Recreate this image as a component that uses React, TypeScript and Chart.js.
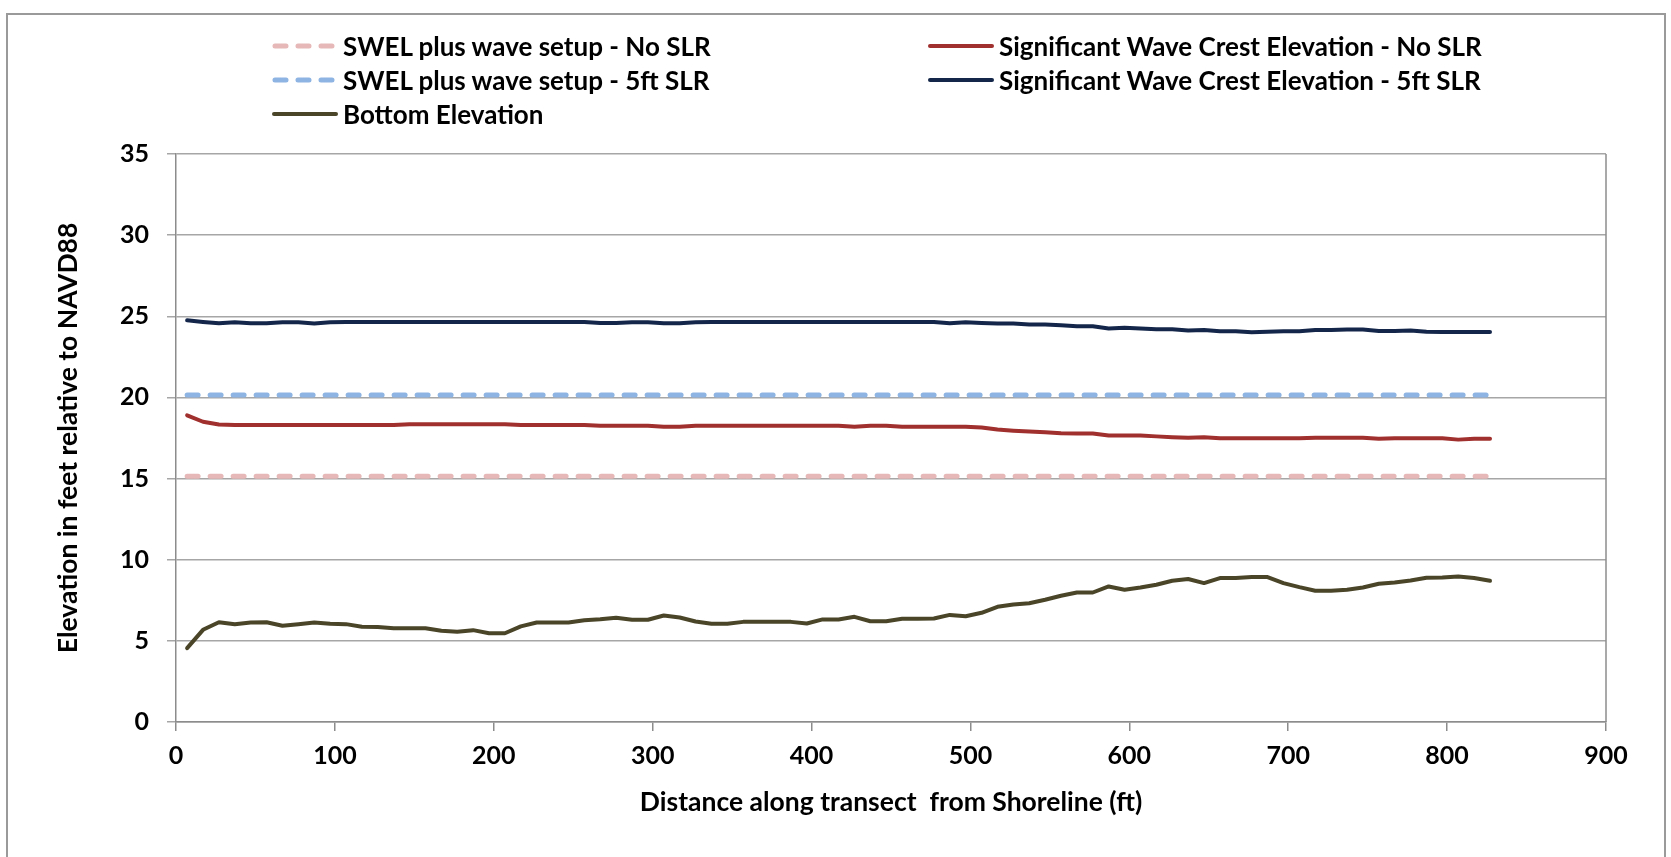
import React, { useEffect, useRef } from "react";
import { Chart, registerables } from "chart.js";

Chart.register(...registerables);

const distances = [
  7, 17, 27, 37, 47, 57, 67, 77, 87, 97,
  107, 117, 127, 137, 147, 157, 167, 177, 187, 197,
  207, 217, 227, 237, 247, 257, 267, 277, 287, 297,
  307, 317, 327, 337, 347, 357, 367, 377, 387, 397,
  407, 417, 427, 437, 447, 457, 467, 477, 487, 497,
  507, 517, 527, 537, 547, 557, 567, 577, 587, 597,
  607, 617, 627, 637, 647, 657, 667, 677, 687, 697,
  707, 717, 727, 737, 747, 757, 767, 777, 787, 797,
  807, 817, 827,
];

const bottomElevation = [
  4.55, 5.68, 6.15, 6.03, 6.13, 6.15, 5.93, 6.03, 6.13, 6.05,
  6.03, 5.87, 5.85, 5.78, 5.78, 5.78, 5.62, 5.56, 5.66, 5.47,
  5.47, 5.89, 6.13, 6.13, 6.13, 6.27, 6.33, 6.42, 6.3, 6.3,
  6.56, 6.44, 6.19, 6.05, 6.05, 6.17, 6.17, 6.17, 6.17, 6.07,
  6.32, 6.32, 6.48, 6.21, 6.21, 6.36, 6.36, 6.38, 6.6, 6.52,
  6.73, 7.1, 7.24, 7.32, 7.53, 7.78, 7.98, 7.98, 8.35, 8.15,
  8.29, 8.46, 8.7, 8.81, 8.56, 8.87, 8.87, 8.93, 8.93, 8.56,
  8.31, 8.09, 8.09, 8.15, 8.29, 8.52, 8.6, 8.72, 8.89, 8.91,
  8.97, 8.87, 8.7,
];

const crestNoSLR = [
  18.9, 18.5, 18.33, 18.3, 18.3, 18.3, 18.3, 18.3, 18.3, 18.3,
  18.3, 18.3, 18.3, 18.3, 18.35, 18.35, 18.35, 18.35, 18.35, 18.35,
  18.35, 18.3, 18.3, 18.3, 18.3, 18.3, 18.25, 18.25, 18.25, 18.25,
  18.2, 18.2, 18.25, 18.25, 18.25, 18.25, 18.25, 18.25, 18.25, 18.25,
  18.25, 18.25, 18.2, 18.25, 18.25, 18.2, 18.2, 18.2, 18.2, 18.2,
  18.15, 18.02, 17.95, 17.9, 17.85, 17.8, 17.78, 17.78, 17.65, 17.65,
  17.65, 17.6, 17.55, 17.52, 17.55, 17.48, 17.48, 17.48, 17.48, 17.48,
  17.48, 17.52, 17.52, 17.52, 17.52, 17.45, 17.48, 17.48, 17.48, 17.48,
  17.4, 17.45, 17.45,
];

const crest5ftSLR = [
  24.75, 24.65, 24.57, 24.63, 24.57, 24.57, 24.63, 24.63, 24.55, 24.63,
  24.65, 24.65, 24.65, 24.65, 24.65, 24.65, 24.65, 24.65, 24.65, 24.65,
  24.65, 24.65, 24.65, 24.65, 24.65, 24.65, 24.58, 24.58, 24.63, 24.63,
  24.57, 24.57, 24.63, 24.65, 24.65, 24.65, 24.65, 24.65, 24.65, 24.65,
  24.65, 24.65, 24.65, 24.65, 24.65, 24.65, 24.65, 24.65, 24.57, 24.63,
  24.58, 24.55, 24.55, 24.5, 24.5, 24.45, 24.38, 24.38, 24.25, 24.3,
  24.25, 24.2, 24.2, 24.12, 24.15, 24.08, 24.08, 24.02, 24.05, 24.08,
  24.08, 24.15, 24.15, 24.18, 24.18, 24.1, 24.1, 24.12, 24.05, 24.03,
  24.03, 24.03, 24.03,
];

const swelX = [7, 827];
const swelNoSLR = [15.15, 15.15];
const swel5ftSLR = [20.15, 20.15];

const xTicks = [0, 100, 200, 300, 400, 500, 600, 700, 800, 900];
const yTicks = [0, 5, 10, 15, 20, 25, 30, 35];

const labels = {
  swelNo: "SWEL plus wave setup - No SLR",
  swel5: "SWEL plus wave setup - 5ft SLR",
  bottom: "Bottom Elevation",
  crestNo: "Significant Wave Crest Elevation - No SLR",
  crest5: "Significant Wave Crest Elevation - 5ft SLR",
};

const colors = {
  swelNo: "#E6B8B7",
  swel5: "#8DB4E2",
  bottom: "#4A4529",
  crestNo: "#A0302D",
  crest5: "#14274A",
  grid: "#A6A6A6",
  axis: "#8C8C8C",
};

const FONT = "Lato, 'Liberation Sans', sans-serif";

const toPoints = (xs: number[], ys: number[]) => xs.map((x, i) => ({ x, y: ys[i] }));

const frameLine = {
  id: "frameLine",
  beforeDatasetsDraw(chart: any) {
    const { ctx, chartArea } = chart;
    ctx.save();
    ctx.strokeStyle = colors.axis;
    ctx.lineWidth = 1.5;
    ctx.beginPath();
    ctx.moveTo(chartArea.right, chartArea.top);
    ctx.lineTo(chartArea.right, chartArea.bottom);
    ctx.stroke();
    ctx.restore();
  },
};

type LegendItem = { key: keyof typeof labels; dashed: boolean; left: number; top: number };

const legendItems: LegendItem[] = [
  { key: "swelNo", dashed: true, left: 272, top: 46 },
  { key: "swel5", dashed: true, left: 272, top: 80 },
  { key: "bottom", dashed: false, left: 272, top: 114 },
  { key: "crestNo", dashed: false, left: 928, top: 46 },
  { key: "crest5", dashed: false, left: 928, top: 80 },
];

function LegendEntry({ item }: { item: LegendItem }) {
  const color = colors[item.key];
  return (
    <div
      style={{
        position: "absolute",
        left: item.left,
        top: item.top - 17,
        height: 34,
        display: "flex",
        alignItems: "center",
        whiteSpace: "nowrap",
      }}
    >
      <svg width={66} height={10} style={{ display: "block" }}>
        {item.dashed ? (
          <line x1={3} y1={5} x2={63} y2={5} stroke={color} strokeWidth={5} strokeLinecap="round" strokeDasharray="11 12" />
        ) : (
          <line x1={2} y1={5} x2={64} y2={5} stroke={color} strokeWidth={4} strokeLinecap="round" />
        )}
      </svg>
      <span
        style={{
          marginLeft: 5,
          fontFamily: FONT,
          fontWeight: 700,
          fontSize: 26,
          color: "#000",
          lineHeight: "34px",
        }}
      >
        {labels[item.key]}
      </span>
    </div>
  );
}

export default function App() {
  const canvasRef = useRef<HTMLCanvasElement | null>(null);

  useEffect(() => {
    if (!canvasRef.current) return;
    const chart = new Chart(canvasRef.current, {
      type: "line",
      data: {
        datasets: [
          {
            label: labels.swelNo,
            data: toPoints(swelX, swelNoSLR),
            borderColor: colors.swelNo,
            borderWidth: 5,
            borderDash: [11, 12],
            borderCapStyle: "round",
            pointRadius: 0,
          },
          {
            label: labels.crestNo,
            data: toPoints(distances, crestNoSLR),
            borderColor: colors.crestNo,
            borderWidth: 4,
            borderCapStyle: "round",
            borderJoinStyle: "round",
            pointRadius: 0,
          },
          {
            label: labels.swel5,
            data: toPoints(swelX, swel5ftSLR),
            borderColor: colors.swel5,
            borderWidth: 5,
            borderDash: [11, 12],
            borderCapStyle: "round",
            pointRadius: 0,
          },
          {
            label: labels.crest5,
            data: toPoints(distances, crest5ftSLR),
            borderColor: colors.crest5,
            borderWidth: 4,
            borderCapStyle: "round",
            borderJoinStyle: "round",
            pointRadius: 0,
          },
          {
            label: labels.bottom,
            data: toPoints(distances, bottomElevation),
            borderColor: colors.bottom,
            borderWidth: 4,
            borderCapStyle: "round",
            borderJoinStyle: "round",
            pointRadius: 0,
          },
        ],
      },
      options: {
        animation: false,
        responsive: false,
        maintainAspectRatio: false,
        layout: { padding: { top: 154, right: 65, bottom: 0, left: 0 } },
        plugins: {
          legend: { display: false },
          tooltip: { enabled: false },
        },
        scales: {
          x: {
            type: "linear",
            min: 0,
            max: 900,
            afterFit: (s: any) => {
              s.height = 135;
            },
            afterBuildTicks: (s: any) => {
              s.ticks = xTicks.map((v) => ({ value: v }));
            },
            ticks: {
              autoSkip: false,
              maxRotation: 0,
              padding: 10,
              color: "#000",
              font: { family: FONT, size: 25, weight: "bold" },
            },
            grid: {
              drawOnChartArea: false,
              drawTicks: true,
              tickLength: 9,
              color: colors.axis,
              lineWidth: 1.5,
            },
            border: { display: true, color: colors.axis, width: 1.5 },
            title: {
              display: true,
              text: "Distance along transect  from Shoreline (ft)",
              color: "#000",
              font: { family: FONT, size: 26.5, weight: "bold" },
              padding: { top: 0, bottom: 39 },
            },
          },
          y: {
            type: "linear",
            min: 0,
            max: 35,
            afterFit: (s: any) => {
              s.width = 176;
            },
            afterBuildTicks: (s: any) => {
              s.ticks = yTicks.map((v) => ({ value: v }));
            },
            ticks: {
              autoSkip: false,
              padding: 18,
              color: "#000",
              font: { family: FONT, size: 25, weight: "bold" },
            },
            grid: {
              drawOnChartArea: true,
              drawTicks: true,
              tickLength: 9,
              color: colors.grid,
              lineWidth: 1.5,
            },
            border: { display: true, color: colors.axis, width: 1.5 },
            title: {
              display: true,
              text: "Elevation in feet relative to NAVD88",
              color: "#000",
              font: { family: FONT, size: 26.5, weight: "bold" },
              padding: { top: 53, bottom: 0 },
            },
          },
        },
      },
      plugins: [frameLine],
    });
    return () => chart.destroy();
  }, []);

  return (
    <div
      style={{
        position: "fixed",
        left: 0,
        top: 0,
        width: 1671,
        height: 857,
        background: "#fff",
        overflow: "hidden",
      }}
    >
      <div
        style={{
          position: "absolute",
          left: 6,
          top: 13,
          width: 1660,
          height: 900,
          border: "2.5px solid #9A9A9A",
          boxSizing: "border-box",
        }}
      />
      <canvas ref={canvasRef} width={1671} height={857} style={{ position: "absolute", left: 0, top: 0 }} />
      {legendItems.map((item) => (
        <LegendEntry key={item.key} item={item} />
      ))}
    </div>
  );
}
